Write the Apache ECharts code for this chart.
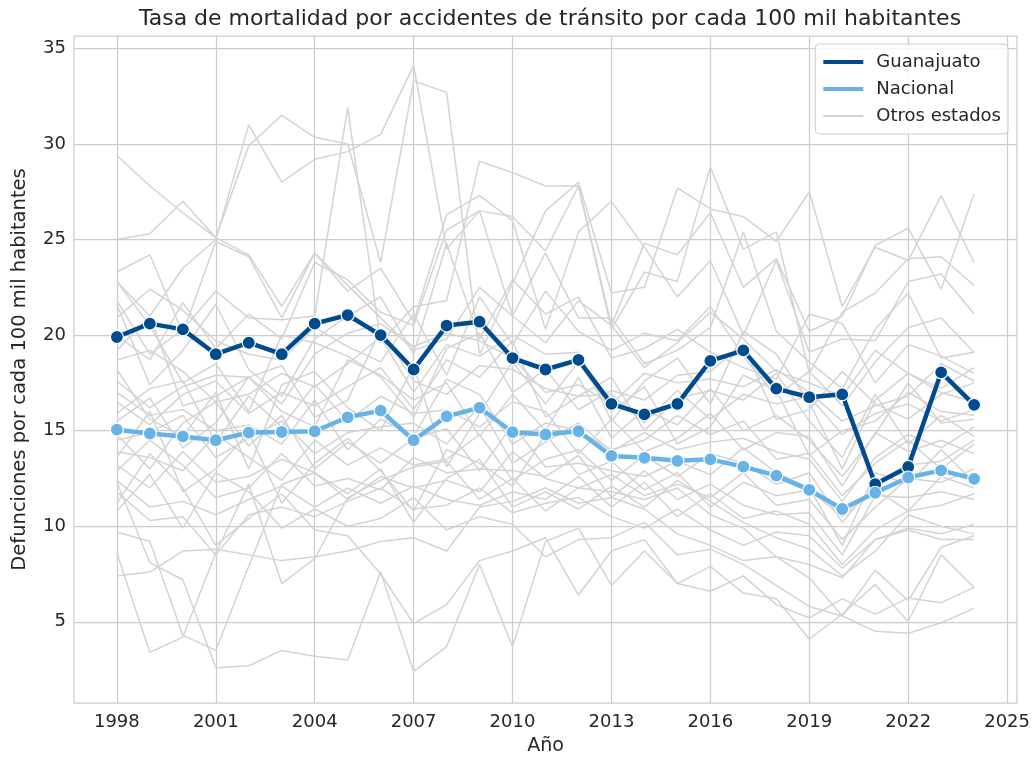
<!DOCTYPE html>
<html style="height: 100%">
<head>
    <meta charset="utf-8">
    <script src="https://cdn.jsdelivr.net/npm/echarts@6/dist/echarts.min.js"></script>
</head>
<body style="height: 100%; margin: 0; background: #fff">
    <div id="main" style="width:1034px; height:765px;"></div>
    <script type="text/javascript">
    // años
    var years = [1998, 1999, 2000, 2001, 2002, 2003, 2004, 2005, 2006, 2007, 2008, 2009, 2010, 2011,
        2012, 2013, 2014, 2015, 2016, 2017, 2018, 2019, 2020, 2021, 2022, 2023, 2024];
    var xTicks = [1998, 2001, 2004, 2007, 2010, 2013, 2016, 2019, 2022, 2025];
    var yTicks = [5, 10, 15, 20, 25, 30, 35];

    var guanajuato = [19.9, 20.6, 20.3, 19.0, 19.6, 19.0, 20.6, 21.05, 20.0, 18.2, 20.5, 20.7, 18.8, 18.2,
        18.7, 16.4, 15.85, 16.4, 18.65, 19.2, 17.2, 16.75, 16.9, 12.2, 13.1, 18.05, 16.35];
    var nacional = [15.05, 14.85, 14.7, 14.5, 14.9, 14.93, 14.97, 15.7, 16.05, 14.5, 15.75, 16.2, 14.92, 14.8,
        14.97, 13.68, 13.58, 13.42, 13.5, 13.12, 12.65, 11.9, 10.9, 11.75, 12.55, 12.92, 12.48];

    // otros estados (31)
    var otros = [
        [29.4, 27.8, 26.4, 25.1, 24.2, 21.5, 24.3, 22.6, 20.9, 19.2, 19.8, 22.5, 21.0, 19.6, 21.8, 20.5, 18.3, 19.6, 21.2, 19.8, 18.1, 17.5, 16.8, 19.2, 18.0, 17.2, 18.3],
        [22.8, 21.0, 23.5, 25.0, 31.0, 28.0, 29.2, 29.6, 30.5, 34.1, 24.5, 26.5, 26.2, 24.4, 27.8, 20.5, 24.8, 24.2, 26.4, 22.5, 24.0, 20.2, 21.0, 24.7, 25.6, 22.4, 27.4],
        [25.0, 25.3, 27.0, 25.1, 29.9, 31.5, 30.35, 30.0, 23.8, 33.3, 32.7, 19.0, 22.7, 26.5, 28.0, 22.2, 22.5, 27.7, 26.6, 26.2, 24.9, 27.5, 21.5, 24.6, 23.9, 27.3, 23.8],
        [21.8, 19.0, 20.3, 22.3, 20.9, 20.8, 21.0, 31.9, 19.6, 21.5, 21.8, 29.1, 28.5, 27.8, 27.8, 20.3, 23.3, 22.8, 28.8, 24.5, 25.4, 18.0, 21.2, 22.2, 24.0, 24.1, 22.6],
        [23.3, 24.2, 20.1, 24.9, 24.1, 20.9, 24.3, 22.3, 23.5, 20.7, 26.3, 27.3, 26.0, 20.3, 25.4, 27.0, 24.6, 22.0, 23.9, 20.0, 23.9, 19.1, 19.8, 19.7, 22.8, 23.2, 21.1],
        [20.0, 18.7, 21.7, 19.3, 21.1, 19.8, 23.8, 22.9, 21.2, 20.5, 25.5, 26.5, 21.0, 24.3, 20.9, 20.9, 18.5, 19.2, 20.4, 25.4, 20.2, 18.6, 17.2, 20.3, 22.2, 18.8, 19.1],
        [17.6, 16.2, 17.3, 17.9, 17.8, 16.4, 19.0, 20.1, 20.6, 19.4, 20.1, 19.7, 18.8, 17.0, 17.4, 16.4, 18.0, 17.5, 17.7, 17.3, 18.2, 17.0, 15.5, 16.3, 16.8, 18.5, 17.6],
        [18.7, 19.2, 18.1, 16.5, 16.9, 18.0, 17.3, 18.5, 19.9, 17.0, 19.5, 18.9, 20.0, 19.0, 19.1, 15.5, 17.6, 18.8, 16.4, 20.2, 19.0, 16.5, 13.0, 16.6, 18.0, 17.0, 16.5],
        [16.5, 15.3, 16.9, 17.6, 15.9, 17.0, 16.3, 17.3, 18.3, 16.1, 18.7, 17.8, 19.7, 15.7, 16.8, 16.9, 15.4, 17.1, 15.6, 16.9, 16.4, 16.8, 14.8, 15.9, 16.4, 15.5, 16.1],
        [15.5, 16.7, 14.1, 15.4, 17.8, 16.0, 15.2, 18.7, 17.9, 16.6, 17.5, 14.7, 16.9, 15.0, 17.8, 14.6, 16.1, 15.3, 17.2, 15.0, 15.8, 14.5, 12.6, 14.8, 17.5, 15.4, 15.6],
        [14.5, 14.9, 15.8, 13.6, 14.6, 15.5, 13.8, 14.9, 15.2, 15.4, 14.3, 16.3, 13.3, 14.4, 15.4, 13.9, 14.9, 14.0, 14.4, 14.6, 13.9, 13.5, 11.3, 13.6, 14.8, 14.1, 15.2],
        [13.9, 13.6, 12.9, 14.8, 13.6, 12.4, 14.5, 13.2, 14.1, 13.2, 13.5, 14.8, 12.4, 13.5, 14.0, 12.4, 13.7, 12.6, 13.8, 13.3, 12.2, 12.8, 10.2, 12.3, 13.2, 13.4, 14.5],
        [13.2, 12.0, 13.9, 12.3, 12.6, 13.5, 12.8, 11.4, 12.6, 12.0, 12.4, 11.8, 13.9, 12.5, 12.0, 12.7, 11.6, 12.2, 11.5, 12.8, 11.1, 11.4, 9.3, 11.0, 12.5, 12.3, 13.0],
        [12.4, 11.0, 11.3, 10.6, 11.4, 12.1, 11.0, 12.0, 11.2, 12.1, 11.4, 11.1, 11.8, 11.4, 12.6, 11.0, 12.3, 10.5, 11.7, 10.4, 10.8, 10.1, 8.0, 9.8, 10.8, 11.1, 11.7],
        [11.8, 10.3, 10.5, 8.5, 10.6, 11.0, 10.5, 11.3, 12.0, 10.9, 11.1, 12.0, 10.7, 11.2, 11.5, 10.5, 9.9, 10.9, 9.8, 9.0, 9.7, 9.5, 7.8, 9.3, 9.9, 9.6, 10.1],
        [9.7, 9.2, 4.3, 3.5, 7.9, 12.2, 12.8, 11.7, 13.0, 10.2, 12.5, 13.5, 11.0, 11.8, 10.9, 12.1, 11.0, 12.4, 11.3, 10.2, 9.4, 8.8, 7.4, 8.7, 10.6, 10.0, 9.6],
        [8.6, 3.4, 4.2, 8.6, 12.2, 7.0, 8.3, 11.5, 12.4, 13.1, 13.4, 11.4, 12.5, 10.8, 12.0, 11.8, 11.4, 12.0, 10.6, 9.9, 8.4, 8.0, 7.3, 9.3, 9.8, 9.3, 9.3],
        [7.4, 7.6, 8.7, 8.8, 8.5, 8.2, 8.4, 8.7, 9.2, 9.4, 8.7, 11.0, 11.3, 12.0, 11.2, 11.5, 10.9, 9.6, 9.0, 8.2, 8.4, 7.3, 5.3, 4.5, 4.4, 4.95, 5.7],
        [12.3, 8.1, 7.2, 2.6, 2.7, 3.5, 3.2, 3.0, 7.6, 2.4, 3.7, 8.0, 3.7, 9.2, 9.9, 6.9, 8.7, 7.0, 6.6, 7.4, 5.9, 5.2, 6.2, 5.4, 6.25, 6.0, 6.8],
        [11.2, 13.8, 12.0, 9.0, 10.4, 11.7, 9.8, 9.5, 7.5, 4.9, 5.9, 8.2, 8.7, 9.4, 6.4, 8.7, 9.3, 7.0, 7.9, 6.5, 6.2, 4.1, 5.4, 6.95, 5.0, 8.5, 6.8],
        [21.6, 17.4, 19.2, 21.6, 18.2, 16.8, 19.8, 21.0, 22.0, 19.0, 24.8, 19.8, 22.9, 21.1, 22.0, 18.8, 19.3, 20.3, 19.1, 18.3, 17.7, 21.1, 20.6, 17.5, 19.5, 18.9, 18.0],
        [22.8, 20.5, 17.5, 18.5, 16.0, 20.0, 19.6, 18.9, 17.8, 15.7, 19.3, 20.1, 17.0, 18.2, 16.1, 17.1, 16.6, 17.9, 18.1, 19.5, 15.6, 16.1, 18.1, 16.4, 15.6, 16.9, 17.5],
        [19.2, 21.0, 16.3, 16.8, 17.8, 18.4, 15.7, 16.6, 20.3, 17.6, 16.9, 18.4, 18.2, 17.2, 16.8, 17.8, 15.0, 16.7, 17.1, 16.6, 18.0, 15.5, 13.6, 16.9, 14.3, 15.8, 14.7],
        [15.9, 17.2, 17.6, 14.4, 16.8, 15.2, 17.4, 15.5, 16.8, 15.9, 16.1, 15.2, 16.5, 16.0, 13.8, 15.6, 13.9, 14.6, 15.9, 14.0, 14.9, 14.7, 12.1, 14.9, 13.9, 14.5, 13.8],
        [14.8, 13.0, 15.4, 16.5, 14.2, 15.8, 13.0, 14.4, 13.3, 14.6, 15.1, 12.9, 15.3, 13.1, 13.3, 12.9, 12.6, 13.4, 12.7, 14.1, 12.8, 12.0, 9.0, 12.8, 12.2, 14.0, 12.3],
        [12.9, 14.5, 13.2, 11.5, 12.0, 13.8, 12.1, 12.5, 11.9, 13.6, 12.8, 13.0, 12.9, 12.6, 13.7, 11.5, 12.9, 11.4, 12.2, 11.1, 10.6, 10.7, 8.5, 11.6, 11.5, 11.8, 11.4],
        [17.0, 15.8, 16.1, 15.0, 15.3, 14.3, 16.6, 14.0, 15.6, 14.7, 17.7, 16.9, 14.3, 15.4, 15.0, 14.0, 14.5, 15.8, 14.8, 15.5, 13.5, 13.8, 11.6, 13.3, 14.5, 13.0, 14.3],
        [18.2, 15.6, 14.7, 17.0, 13.0, 17.4, 18.1, 16.2, 15.0, 18.4, 13.1, 15.9, 18.6, 16.4, 18.6, 16.0, 17.3, 14.3, 15.2, 17.9, 17.1, 13.7, 15.0, 15.5, 17.0, 16.0, 15.8],
        [13.6, 16.0, 11.8, 13.0, 14.9, 11.2, 13.3, 14.6, 12.9, 10.8, 14.0, 13.3, 12.1, 14.8, 12.7, 13.4, 11.9, 12.8, 11.0, 12.3, 11.6, 11.9, 10.5, 11.9, 10.8, 12.6, 12.0],
        [20.9, 22.4, 21.3, 19.7, 19.0, 18.7, 20.4, 19.4, 18.6, 21.1, 17.9, 22.0, 19.5, 22.3, 20.2, 19.2, 20.1, 19.7, 21.5, 18.9, 16.8, 18.1, 16.3, 18.6, 20.4, 20.9, 19.1],
        [10.8, 12.7, 9.9, 12.8, 11.8, 9.9, 10.9, 10.0, 10.4, 11.5, 9.8, 10.5, 10.1, 8.4, 9.3, 9.4, 10.2, 8.5, 8.8, 8.0, 6.9, 5.8, 5.3, 7.7, 6.1, 8.9, 9.5]
    ];

    var myChart = echarts.init(document.getElementById('main'));

    function pares(vals) {
        return years.map(function (y, i) { return [y, vals[i]]; });
    }

    var txt = '#262626';
    var azul = '#004b8d';
    var celeste = '#67b3e6';
    var series = [];
    otros.forEach(function (vals) {
        series.push({
            name: 'Otros estados',
            type: 'line',
            data: pares(vals),
            symbol: 'none',
            lineStyle: { color: '#d3d3d3', width: 1.5 },
            itemStyle: { color: '#d3d3d3' },
            z: 2,
            silent: true
        });
    });
    series.push({
        name: 'Guanajuato',
        type: 'line',
        data: pares(guanajuato),
        symbol: 'circle',
        symbolSize: 13,
        lineStyle: { color: azul, width: 4.5 },
        itemStyle: { color: azul, borderColor: '#fff', borderWidth: 1.2 },
        z: 3
    });
    series.push({
        name: 'Nacional',
        type: 'line',
        data: pares(nacional),
        symbol: 'circle',
        symbolSize: 13,
        lineStyle: { color: celeste, width: 4.5 },
        itemStyle: { color: celeste, borderColor: '#fff', borderWidth: 1.2 },
        z: 4
    });

    var option = {
        animation: false,
        backgroundColor: '#fff',
        textStyle: { fontFamily: 'DejaVu Sans' },
        title: {
            text: 'Tasa de mortalidad por accidentes de tránsito por cada 100 mil habitantes',
            left: 545,
            textAlign: 'center',
            top: 3,
            textStyle: { fontSize: 22, fontWeight: 'normal', color: txt, fontFamily: 'DejaVu Sans' }
        },
        legend: {
            data: [
                { name: 'Guanajuato', lineStyle: { width: 4 } },
                { name: 'Nacional', lineStyle: { width: 4 } },
                { name: 'Otros estados', lineStyle: { width: 2 } }
            ],
            orient: 'vertical',
            right: 26,
            top: 44,
            itemWidth: 40,
            itemHeight: 14,
            itemGap: 9,
            padding: [9, 7, 9, 6],
            backgroundColor: 'rgba(255,255,255,0.8)',
            borderColor: '#cccccc',
            borderWidth: 1,
            borderRadius: 4,
            itemStyle: { opacity: 0 },
            textStyle: { fontSize: 18, color: txt, fontFamily: 'DejaVu Sans', padding: [0, 0, 0, 8] }
        },
        grid: {
            left: 74,
            right: 17,
            top: 36,
            bottom: 62,
            show: true,
            borderColor: '#cccccc',
            borderWidth: 1.25
        },
        xAxis: {
            type: 'value',
            min: 1996.7,
            max: 2025.3,
            name: 'Año',
            nameLocation: 'middle',
            nameGap: 34,
            nameTextStyle: { fontSize: 19, color: txt },
            axisLine: { show: false },
            axisTick: { show: false, customValues: xTicks },
            axisLabel: {
                customValues: xTicks,
                fontSize: 18,
                color: txt,
                margin: 10,
                formatter: function (v) { return String(v); }
            },
            splitLine: { show: true, lineStyle: { color: '#cccccc', width: 1.25 } }
        },
        yAxis: {
            type: 'value',
            min: 0.75,
            max: 35.65,
            name: 'Defunciones por cada 100 mil habitantes',
            nameLocation: 'middle',
            nameGap: 44,
            nameTextStyle: { fontSize: 19.5, color: txt },
            axisLine: { show: false },
            axisTick: { show: false, customValues: yTicks },
            axisLabel: { customValues: yTicks, fontSize: 18, color: txt, margin: 8 },
            splitLine: { show: true, lineStyle: { color: '#cccccc', width: 1.25 } }
        },
        series: series
    };
    myChart.setOption(option);
    </script>
</body>
</html>
